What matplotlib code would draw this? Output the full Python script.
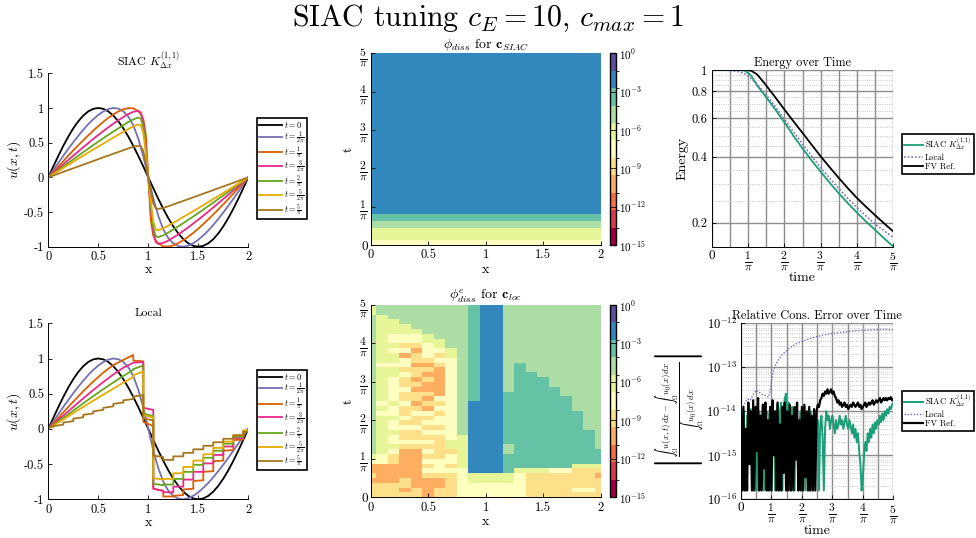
import numpy as np
import matplotlib
matplotlib.use("Agg")
import matplotlib.pyplot as plt
from matplotlib.colors import ListedColormap, BoundaryNorm

plt.rcParams.update({
    "font.family": "serif",
    "font.serif": ["cmr10"],
    "mathtext.fontset": "cm",
    "axes.unicode_minus": False,
    "axes.formatter.use_mathtext": True,
})

# ---------------------------------------------------------------- data
# snapshot labels
SNAP_LABELS = [r"$t = 0$", r"$t = \frac{1}{2\pi}$", r"$t = \frac{1}{\pi}$",
               r"$t = \frac{3}{2\pi}$", r"$t = \frac{2}{\pi}$",
               r"$t = \frac{5}{2\pi}$", r"$t = \frac{5}{\pi}$"]
SNAP_COLORS = ["#000000", "#7570b3", "#d95f02", "#e7298a", "#66a61e", "#e6ab02", "#a6761d"]

# filtered (SIAC) solution snapshots
X_SIAC = [0.0, 0.05, 0.1, 0.15, 0.2, 0.25, 0.3, 0.35, 0.4, 0.45, 0.5, 0.55, 0.6, 0.65,
          0.7, 0.75, 0.8, 0.85, 0.9, 0.925, 0.95, 0.975, 1.0, 1.025, 1.05, 1.075,
          1.1, 1.15, 1.2, 1.25, 1.3, 1.35, 1.4, 1.45, 1.5, 1.55, 1.6, 1.65, 1.7,
          1.75, 1.8, 1.85, 1.9, 1.95, 2.0]
U_T0 = [0, .156, .309, .454, .588, .707, .809, .891, .951, .988, 1.0, .988, .951, .891,
        .809, .707, .588, .454, .309, .233, .156, .078, 0, -.078, -.156, -.233, -.309,
        -.454, -.588, -.707, -.809, -.891, -.951, -.988, -1.0, -.988, -.951, -.891,
        -.809, -.707, -.588, -.454, -.309, -.156, 0]
U_T1 = [0, .105, .209, .311, .411, .507, .599, .686, .767, .838, .90, .95, .984, 1.0,
        .991, .951, .877, .751, .557, .432, .30, .152, 0, -.152, -.30, -.432, -.557,
        -.751, -.877, -.951, -.991, -1.0, -.984, -.95, -.90, -.838, -.767, -.686,
        -.599, -.507, -.411, -.311, -.209, -.105, 0]
U_T2 = [0, .0785, .157, .235, .313, .388, .462, .535, .606, .674, .739, .80, .857, .907,
        .949, .981, .998, .995, .954, .91, .84, .62, 0, -.62, -.84, -.91, -.954,
        -.995, -.998, -.981, -.949, -.907, -.857, -.80, -.739, -.674, -.606, -.535,
        -.462, -.388, -.313, -.235, -.157, -.0785, 0]
U_T3 = [0, .063, .126, .188, .251, .312, .374, .434, .494, .553, .61, .666, .721, .773,
        .823, .869, .912, .945, .958, .935, .80, .45, 0, -.45, -.80, -.935, -.958,
        -.945, -.912, -.869, -.823, -.773, -.721, -.666, -.61, -.553, -.494, -.434,
        -.374, -.312, -.251, -.188, -.126, -.063, 0]
U_T4 = [0, .052, .105, .157, .209, .260, .312, .364, .414, .465, .515, .564, .612, .660,
        .706, .752, .796, .836, .862, .85, .72, .40, 0, -.40, -.72, -.85, -.862,
        -.836, -.796, -.752, -.706, -.660, -.612, -.564, -.515, -.465, -.414, -.364,
        -.312, -.260, -.209, -.157, -.105, -.052, 0]
U_T5 = [0, .045, .090, .135, .180, .224, .269, .313, .356, .401, .444, .487, .530, .572,
        .615, .656, .697, .735, .762, .752, .64, .36, 0, -.36, -.64, -.752, -.762,
        -.735, -.697, -.656, -.615, -.572, -.530, -.487, -.444, -.401, -.356, -.313,
        -.269, -.224, -.180, -.135, -.090, -.045, 0]
U_T6 = [0, .026, .052, .079, .105, .131, .157, .183, .210, .235, .262, .288, .314, .340,
        .365, .391, .417, .442, .455, .448, .38, .21, 0, -.21, -.38, -.448, -.455,
        -.442, -.417, -.391, -.365, -.340, -.314, -.288, -.262, -.235, -.210, -.183,
        -.157, -.131, -.105, -.079, -.052, -.026, 0]

# local-dissipation solution: per-cell (left trace, right trace) values,
# cells [0,.05], [.05,.15], ..., [1.95,2]
LOC_CELL_EDGES = [0.0, 0.05, 0.15, 0.25, 0.35, 0.45, 0.55, 0.65, 0.75, 0.85, 0.95,
                  1.05, 1.15, 1.25, 1.35, 1.45, 1.55, 1.65, 1.75, 1.85, 1.95, 2.0]
LOC_T2 = [(0.0, .078), (.078, .235), (.235, .388), (.388, .535), (.535, .674),
          (.674, .80), (.80, .907), (.907, .98), (.98, 1.05), (.97, .96), (.10, .04),
          (-.85, -.88), (-.96, -.96), (-.95, -.94), (-.86, -.85), (-.74, -.73),
          (-.61, -.60), (-.46, -.45), (-.31, -.30), (-.16, -.15), (-.03, -.02)]
LOC_T3 = [(0.0, .063), (.063, .188), (.188, .312), (.312, .434), (.434, .553),
          (.553, .666), (.666, .773), (.773, .869), (.869, .94), (.94, .95), (.30, .27),
          (-.85, -.88), (-.90, -.90), (-.82, -.82), (-.72, -.72), (-.61, -.61),
          (-.49, -.49), (-.37, -.37), (-.25, -.25), (-.13, -.13), (-.03, -.03)]
LOC_T4 = [(0.0, .052), (.052, .157), (.157, .26), (.26, .364), (.364, .465),
          (.465, .564), (.564, .66), (.66, .752), (.752, .838), (.85, .90), (.22, .18),
          (-.78, -.80), (-.79, -.79), (-.71, -.71), (-.61, -.61), (-.51, -.51),
          (-.41, -.41), (-.31, -.31), (-.21, -.21), (-.11, -.11), (-.03, -.03)]
LOC_T5 = [(0.0, .045), (.045, .135), (.135, .224), (.224, .313), (.313, .401),
          (.401, .487), (.487, .572), (.572, .656), (.656, .737), (.76, .82), (.20, .16),
          (-.70, -.72), (-.71, -.71), (-.63, -.63), (-.54, -.54), (-.45, -.45),
          (-.36, -.36), (-.27, -.27), (-.18, -.18), (-.09, -.09), (-.02, -.02)]
LOC_T6 = [(.03, .03), (.04, .06), (.09, .11), (.145, .165), (.20, .22), (.25, .27),
          (.30, .32), (.355, .375), (.405, .425), (.46, .48), (.15, .12),
          (-.38, -.40), (-.44, -.44), (-.39, -.39), (-.34, -.34), (-.29, -.29),
          (-.24, -.24), (-.19, -.19), (-.14, -.14), (-.09, -.09), (-.04, -.04)]

# dissipation indicator, coded by colour band ("crOolpygtbv" = lowest .. highest)
BAND_CODES = "crOolpygtbv"
PHI_SIAC_ROWS = "pp" + "yyyyy" + "ggg" + "ttt" + "b" * 67           # bottom -> top, uniform in x
PHI_LOC_COLUMNS = [                                                  # x = 0, 0.1, ..., 2; bottom -> top
    "llloloopy" + "g" * 29 + "yy",
    "llloooopp" + "yyyyy" + "yyypyp" + "yyyyyyy" + "p" + "y" * 10 + "gg",
    "llloooo" + "ll" + "pyppyppyppy" + "ppppp" + "yypyypy" + "pp" + "yyy" + "ggg",
    "lolloooooo" + "lpllplpllpllpll" + "plppoplp" + "p" + "yy" + "gggg",
    "lloooooooo" + "lpllpllp" + "lollolollollol" + "pp" + "y" + "ggggg",
    "ooool" + "plplp" + "lplplplp" + "ololoololol" + "ppp" + "yy" + "gggggg",
    "lloolppp" + "lllll" + "plpplplp" + "oooooo" + "lplp" + "yy" + "ggggggg",
    "lllll" + "plppl" + "yy" + "p" * 17 + "yy" + "g" * 9,
    "pppppp" + "yyyyyyy" + "g" * 27,
    "pppyy" + "b" * 15 + "t" * 20,
    "pppyy" + "b" * 35,
    "pppyy" + "b" * 35,
    "pppyy" + "tttt" + "gg" + "t" * 11 + "g" * 18,
    "pppppy" + "t" * 22 + "g" * 12,
    "llllly" + "t" * 20 + "g" * 14,
    "llllly" + "t" * 19 + "g" * 15,
    "lllllp" + "t" * 17 + "g" * 17,
    "lllllp" + "t" * 15 + "g" * 19,
    "lpllll" + "y" + "t" * 11 + "g" * 22,
    "lpllll" + "y" + "t" * 7 + "g" * 26,
    "llllol" + "y" + "ttt" + "g" * 30,
]

# energy history, time in units of 1/pi
ENERGY_T = [0, 0.25, 0.5, 0.75, 0.9, 1.0, 1.1, 1.25, 1.5, 1.75, 2.0, 2.25, 2.5, 2.75,
            3.0, 3.25, 3.5, 3.75, 4.0, 4.25, 4.5, 4.75, 5.0]
ENERGY_SIAC = [1, 1, 1, 0.999, 0.993, 0.97, 0.935, 0.85, 0.75, 0.66, 0.576, 0.50, 0.437,
               0.385, 0.342, 0.304, 0.272, 0.245, 0.222, 0.202, 0.185, 0.169, 0.155]
ENERGY_LOCAL = [1, 1, 0.997, 0.982, 0.962, 0.94, 0.91, 0.86, 0.77, 0.68, 0.595, 0.522,
                0.458, 0.404, 0.357, 0.319, 0.286, 0.258, 0.234, 0.214, 0.197, 0.183, 0.171]
ENERGY_FV = [1, 1, 1, 1, 1, 0.999, 0.99, 0.955, 0.85, 0.75, 0.66, 0.582, 0.515, 0.455,
             0.402, 0.358, 0.32, 0.287, 0.259, 0.236, 0.216, 0.198, 0.182]

# relative conservation error (log10), sampled every 0.04/pi
CONS_SIAC_LOG = [
    -14.2, -15.8, -14.0, -14.5, -15.8, -14.1, -14.3, -15.0, -13.95, -14.6,
    -15.8, -14.1, -14.0, -15.8, -14.2, -14.0, -15.4, -14.1, -13.9, -15.8,
    -14.3, -14.0, -15.8, -14.1, -13.9, -15.8, -14.2, -14.0, -15.8, -14.1,
    -13.85, -15.8, -14.0, -13.8, -15.8, -13.9, -13.7, -13.6, -15.8, -13.8,
    -14.0, -15.8, -13.9, -14.2, -15.8, -14.0, -13.9, -15.8, -14.3, -14.0,
    -15.8, -14.2, -13.9, -15.8, -14.1, -14.3, -15.8, -14.0, -14.4, -15.8,
    -14.2, -14.1, -14.5, -14.2, -15.8, -14.3, -14.1, -14.6, -15.8, -14.4,
    -14.0, -14.2, -14.1, -14.4, -14.2, -14.1, -14.3, -14.5, -14.2, -14.4,
    -14.3, -14.1, -14.3, -14.2, -14.4, -14.25, -14.1, -14.3, -14.4, -14.2,
    -14.35, -14.5, -14.3, -14.6, -14.4, -14.7, -14.5, -14.9, -15.2, -15.8,
    -15.5, -15.0, -14.7, -14.9, -14.5, -14.7, -14.4, -14.6, -14.3, -14.5,
    -14.25, -14.4, -14.2, -14.3, -14.1, -14.25, -14.05, -14.2, -14.0, -14.1,
    -13.95, -14.05, -13.9, -13.95, -13.85, -13.8]
CONS_FV_LOG = [
    -14.1, -15.8, -13.9, -15.8, -14.4, -15.8, -13.8, -15.2, -14.0, -15.8,
    -13.75, -15.8, -13.9, -14.9, -13.7, -15.8, -14.1, -15.8, -13.85, -15.3,
    -13.8, -15.8, -14.2, -15.8, -13.9, -15.8, -13.75, -15.0, -14.0, -15.8,
    -13.8, -15.8, -14.3, -15.8, -13.9, -15.4, -13.8, -15.8, -14.0, -15.8,
    -13.85, -15.8, -14.1, -15.8, -13.9, -15.1, -13.8, -15.8, -14.2, -15.8,
    -13.9, -15.8, -13.85, -15.5, -14.0, -15.8, -13.9, -15.8, -14.1, -15.8,
    -13.95, -15.8,
    -14.0, -13.85, -13.9, -13.75, -13.7, -13.6, -13.65, -13.55, -13.6, -13.5,
    -13.6, -13.55, -13.5, -13.6, -13.55, -13.65, -13.7, -13.8, -13.75, -13.85,
    -13.8, -13.9, -13.85, -13.8, -13.9, -13.85, -13.95, -13.9, -13.85, -13.9,
    -13.8, -13.85, -13.9, -13.85, -13.8, -13.9, -13.85, -13.95, -13.9, -13.85,
    -13.8, -13.9, -13.85, -13.8, -13.85, -13.8, -13.75, -13.85, -13.8, -13.75,
    -13.8, -13.75, -13.7, -13.8, -13.75, -13.7, -13.75, -13.7, -13.75, -13.7,
    -13.72, -13.68, -13.75, -13.72]
CONS_LOCAL_T = [0, 0.1, 0.2, 0.3, 0.4, 0.5, 0.6, 0.7, 0.8, 0.9, 0.95, 1.0, 1.05, 1.1,
                1.2, 1.3, 1.4, 1.6, 1.8, 2.0, 2.25, 2.5, 2.75, 3.0, 3.25, 3.5, 3.75,
                4.0, 4.25, 4.5, 4.75, 5.0]
CONS_LOCAL_LOG = [-14.1, -13.85, -13.72, -13.75, -13.62, -13.52, -13.57, -13.62, -13.64,
                  -13.68, -13.55, -13.32, -13.12, -13.0, -12.86, -12.76, -12.68, -12.56,
                  -12.47, -12.41, -12.35, -12.3, -12.26, -12.23, -12.21, -12.19, -12.17,
                  -12.16, -12.15, -12.14, -12.14, -12.15]

SPECTRAL_11 = ["#9e0142", "#d53e4f", "#f46d43", "#fdae61", "#fee08b", "#ffffbf",
               "#e6f598", "#abdda4", "#66c2a5", "#3288bd", "#5e4fa2"]
GREEN = "#1b9e77"
PURPLE = "#7570b3"

# ---------------------------------------------------------------- layout
W, H = 976, 538
fig = plt.figure(figsize=(W / 100, H / 100), dpi=100)


def axes_px(x0, y0, x1, y1):
    return fig.add_axes([x0 / W, 1 - y1 / H, (x1 - x0) / W, (y1 - y0) / H])


def style_ticks(ax):
    ax.tick_params(direction="in", length=3, width=0.6, labelsize=9, pad=3)
    for s in ax.spines.values():
        s.set_linewidth(0.7)


def shrink_plain_zero(labels):
    # fraction labels need a larger size than the plain "0"
    for lbl in labels:
        if lbl.get_text() == "0":
            lbl.set_fontsize(9.5)


PI_TICKS = [k / np.pi for k in range(6)]
PI_LABELS = ["0"] + [r"$\frac{%d}{\pi}$" % k for k in range(1, 6)]

fig.text(0.5, 1 - 18 / H, r"SIAC tuning $c_E = 10$, $c_{max} = 1$",
         ha="center", va="center", fontsize=21.5)


def legend_box(ax, handles, labels, x, y, fs, spacing, hlen):
    leg = ax.legend(handles, labels, loc="upper left", bbox_to_anchor=(x / W, 1 - y / H),
                    bbox_transform=fig.transFigure, fontsize=fs, frameon=True,
                    fancybox=False, edgecolor="black", framealpha=1, borderpad=0.25,
                    handlelength=hlen, handletextpad=0.25, labelspacing=spacing,
                    borderaxespad=0)
    leg.get_frame().set_linewidth(1.2)
    return leg


def solution_axes(ax, title):
    ax.set_xlim(0, 2)
    ax.set_ylim(-1, 1.5)
    ax.set_xticks([0, 0.5, 1, 1.5, 2])
    ax.set_xticklabels(["0", "0.5", "1", "1.5", "2"])
    ax.set_yticks([-1, -0.5, 0, 0.5, 1, 1.5])
    ax.set_yticklabels(["-1", "-0.5", "0", "0.5", "1", "1.5"])
    ax.spines["top"].set_visible(False)
    ax.spines["right"].set_visible(False)
    ax.set_xlabel("x", fontsize=10, labelpad=1)
    ax.set_ylabel(r"$u(x,t)$", fontsize=10, labelpad=1)
    ax.set_title(title, fontsize=8.5, pad=5)
    style_ticks(ax)


# ---- SIAC snapshots
ax1 = axes_px(48.3, 73.3, 248.3, 246.7)
lines = []
for u, c in zip([U_T0, U_T1, U_T2, U_T3, U_T4, U_T5, U_T6], SNAP_COLORS):
    lines += ax1.plot(X_SIAC, u, color=c, lw=1.3)
solution_axes(ax1, r"SIAC $K^{(1,1)}_{\Delta x}$")
legend_box(ax1, lines, SNAP_LABELS, 256.7, 118.3, 6.0, -0.12, 2.8)

# ---- local snapshots
ax4 = axes_px(48.3, 323.3, 248.3, 499.3)
lines = []
lines += ax4.plot(X_SIAC, U_T0, color=SNAP_COLORS[0], lw=1.3)
lines += ax4.plot(X_SIAC, U_T1, color=SNAP_COLORS[1], lw=1.3)
for cells, c in zip([LOC_T2, LOC_T3, LOC_T4, LOC_T5, LOC_T6], SNAP_COLORS[2:]):
    xs, ys = [], []
    for i, (yl, yr) in enumerate(cells):
        xs += [LOC_CELL_EDGES[i], LOC_CELL_EDGES[i + 1]]
        ys += [yl, yr]
    lines += ax4.plot(xs, ys, color=c, lw=1.3)
solution_axes(ax4, "Local")
legend_box(ax4, lines, SNAP_LABELS, 256.7, 370, 6.0, -0.12, 2.8)

# ---- dissipation maps
cmap = ListedColormap(SPECTRAL_11)
norm = BoundaryNorm(np.linspace(-15, 0, 12), cmap.N)
band_value = {ch: -15 + (i + 0.5) * 15 / 11 for i, ch in enumerate(BAND_CODES)}
x_edges = np.concatenate(([0.0], np.arange(0.05, 2.0, 0.1), [2.0]))
CB_TICKS = [-15, -12, -9, -6, -3, 0]
CB_LABELS = [r"$10^{%d}$" % v for v in CB_TICKS]


def map_axes(ax, cax, mesh, title):
    ax.set_xlim(0, 2)
    ax.set_ylim(0, 5 / np.pi)
    ax.set_xticks([0, 0.5, 1, 1.5, 2])
    ax.set_xticklabels(["0", "0.5", "1", "1.5", "2"])
    ax.set_yticks(PI_TICKS)
    ax.set_yticklabels(PI_LABELS)
    ax.spines["top"].set_visible(False)
    ax.spines["right"].set_visible(False)
    ax.set_xlabel("x", fontsize=10, labelpad=2)
    ax.set_ylabel("t", fontsize=10, labelpad=3)
    ax.set_title(title, fontsize=10, pad=1)
    style_ticks(ax)
    ax.tick_params(axis="y", labelsize=12, pad=2)
    shrink_plain_zero(ax.get_yticklabels())
    cb = fig.colorbar(mesh, cax=cax, ticks=CB_TICKS)
    cb.ax.set_yticklabels(CB_LABELS)
    cb.outline.set_linewidth(1.0)
    cb.ax.tick_params(direction="in", length=2, width=0.6, labelsize=8, left=True,
                      right=True, pad=2)


ax2 = axes_px(370.7, 53.3, 600.7, 245)
siac_vals = np.array([[band_value[ch]] * 2 for ch in PHI_SIAC_ROWS])
t_siac = np.linspace(0, 5 / np.pi, len(PHI_SIAC_ROWS) + 1)
m2 = ax2.pcolormesh([0, 1, 2], t_siac, siac_vals, cmap=cmap, norm=norm, shading="flat")
map_axes(ax2, axes_px(609.5, 53.3, 616, 245), m2, r"$\phi_{diss}$ for $\mathbf{c}_{SIAC}$")

ax5 = axes_px(370.7, 305, 600.7, 497.3)
loc_vals = np.array([[band_value[ch] for ch in col] for col in PHI_LOC_COLUMNS]).T
t_loc = np.linspace(0, 5 / np.pi, loc_vals.shape[0] + 1)
m5 = ax5.pcolormesh(x_edges, t_loc, loc_vals, cmap=cmap, norm=norm, shading="flat")
map_axes(ax5, axes_px(609.5, 305, 616, 497.3), m5, r"$\phi^{e}_{diss}$ for $\mathbf{c}_{loc}$")


# ---- time histories
def history_axes(ax, title):
    ax.set_xlim(0, 5 / np.pi)
    ax.set_xticks(PI_TICKS)
    ax.set_xticklabels(PI_LABELS)
    ax.set_xticks([(k + 0.5) / np.pi for k in range(5)], minor=True)
    ax.xaxis.grid(True, which="both", color="#8c8c8c", lw=1.0, ls="-")
    ax.yaxis.grid(True, which="major", color="#8c8c8c", lw=1.0, ls="-")
    ax.yaxis.grid(True, which="minor", color="#b4b4b4", lw=0.6, ls=":")
    ax.set_axisbelow(True)
    ax.spines["top"].set_visible(False)
    ax.spines["right"].set_visible(False)
    ax.set_xlabel("time", fontsize=10, labelpad=-1)
    ax.set_title(title, fontsize=8.8, pad=3)
    style_ticks(ax)
    ax.tick_params(axis="x", labelsize=12, pad=2)
    ax.tick_params(which="minor", length=0)
    shrink_plain_zero(ax.get_xticklabels())


ax3 = axes_px(711.7, 70, 893.3, 246.7)
t_e = np.array(ENERGY_T) / np.pi
h1, = ax3.plot(t_e, ENERGY_SIAC, color=GREEN, lw=1.3)
h2, = ax3.plot(t_e, ENERGY_LOCAL, color=PURPLE, lw=1.2, ls=(0, (1, 1.2)))
h3, = ax3.plot(t_e, ENERGY_FV, color="black", lw=1.3)
ax3.set_yscale("log")
ax3.set_ylim(min(ENERGY_SIAC + ENERGY_LOCAL + ENERGY_FV), 1)
ax3.set_yticks([0.2, 0.4, 0.6, 0.8, 1])
ax3.set_yticklabels(["0.2", "0.4", "0.6", "0.8", "1"])
ax3.set_yticks([0.25, 0.3, 0.35, 0.45, 0.5, 0.55, 0.65, 0.7, 0.75, 0.85, 0.9, 0.95], minor=True)
ax3.yaxis.set_minor_formatter(matplotlib.ticker.NullFormatter())
history_axes(ax3, "Energy over Time")
ax3.set_ylabel("Energy", fontsize=10, labelpad=2)
HIST_LABELS = [r"SIAC $K^{(1,1)}_{\Delta x}$", "Local", "FV Ref."]
legend_box(ax3, [h1, h2, h3], HIST_LABELS, 902, 134, 6.2, 0.15, 2.2)

ax6 = axes_px(741, 323.3, 893.3, 499.3)
t_s = np.linspace(0, 5 / np.pi, len(CONS_SIAC_LOG))
t_f = np.linspace(0, 5 / np.pi, len(CONS_FV_LOG))
g1, = ax6.plot(t_s, 10.0 ** np.array(CONS_SIAC_LOG), color=GREEN, lw=1.4)
g2, = ax6.plot(np.array(CONS_LOCAL_T) / np.pi, 10.0 ** np.array(CONS_LOCAL_LOG),
               color=PURPLE, lw=1.0, ls=(0, (1, 1.2)))
g3, = ax6.plot(t_f, 10.0 ** np.array(CONS_FV_LOG), color="black", lw=1.6)
ax6.set_yscale("log")
ax6.set_ylim(1e-16, 1e-12)
ax6.set_yticks([1e-16, 1e-15, 1e-14, 1e-13, 1e-12])
ax6.set_yticklabels([r"$10^{-16}$", r"$10^{-15}$", r"$10^{-14}$", r"$10^{-13}$", r"$10^{-12}$"])
history_axes(ax6, "Relative Cons. Error over Time")
ax6.set_ylabel(r"$\left|\frac{\int_\Omega u(x,t)\,dx - \int_\Omega u_0(x)\,dx}"
               r"{\int_\Omega u_0(x)\,dx}\right|$", fontsize=9, labelpad=0)
legend_box(ax6, [g1, g2, g3], HIST_LABELS, 902, 391, 6.2, 0.15, 2.2)

fig.savefig("out.png", dpi=100)
